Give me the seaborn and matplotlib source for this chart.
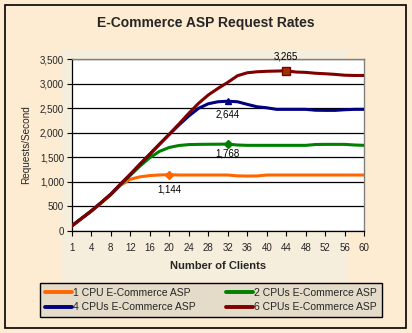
import numpy as np
import pandas as pd
import matplotlib
matplotlib.use("Agg")
import matplotlib.pyplot as plt
from matplotlib.patches import Rectangle
import seaborn as sns

# Request rates (requests/second) by number of clients
clients = [1, 2, 4, 6, 8, 10, 12, 14, 16, 18, 20, 22, 24, 26, 28, 30,
           32, 34, 36, 38, 40, 42, 44, 46, 48, 50, 52, 54, 56, 58, 60]
cpu1 = [96, 245, 395, 560, 730, 925, 1050, 1100, 1125, 1138, 1144, 1137, 1137, 1137, 1137, 1137,
        1137, 1120, 1116, 1118, 1137, 1137, 1137, 1137, 1137, 1137, 1137, 1137, 1137, 1137, 1137]
cpu2 = [96, 250, 402, 570, 743, 945, 1130, 1320, 1490, 1620, 1700, 1740, 1758, 1763, 1765, 1766,
        1768, 1750, 1743, 1743, 1743, 1743, 1743, 1743, 1743, 1760, 1763, 1763, 1763, 1750, 1743]
cpu4 = [96, 250, 402, 570, 743, 948, 1148, 1355, 1558, 1762, 1965, 2160, 2341, 2498, 2592, 2633,
        2644, 2633, 2580, 2531, 2510, 2478, 2478, 2478, 2478, 2460, 2457, 2457, 2470, 2478, 2478]
cpu6 = [96, 250, 402, 570, 743, 950, 1151, 1360, 1565, 1770, 1970, 2180, 2396, 2600, 2771, 2906,
        3029, 3165, 3225, 3245, 3255, 3260, 3265, 3240, 3233, 3215, 3205, 3192, 3175, 3170, 3170]

series_names = ["1 CPU E-Commerce ASP", "2 CPUs E-Commerce ASP",
                "4 CPUs E-Commerce ASP", "6 CPUs E-Commerce ASP"]
series_values = [cpu1, cpu2, cpu4, cpu6]
series_colors = ["#FF6600", "#008000", "#000080", "#800000"]

# Peak points that carry a value label
peak_clients = [20, 32, 32, 44]
peak_markers = ["D", "D", "^", "s"]
peak_label_offsets = [-15, -9, -13, 14]

tick_clients = [1, 4, 8, 12, 16, 20, 24, 28, 32, 36, 40, 44, 48, 52, 56, 60]
y_ticks = [0, 500, 1000, 1500, 2000, 2500, 3000, 3500]

positions = list(range(len(clients)))
df = pd.DataFrame({
    "pos": np.tile(positions, len(series_names)),
    "rate": np.concatenate(series_values),
    "series": np.repeat(series_names, len(clients)),
})

sns.set_theme(style="white")
plt.rcParams["font.family"] = ["Liberation Sans", "DejaVu Sans"]

W, H = 412, 333
fig = plt.figure(figsize=(W / 100, H / 100), dpi=100)
fig.patch.set_facecolor("#FDEBD2")

def fx(px):
    return px / W

def fy(py):
    return 1 - py / H

# inner panel and outer frame
fig.add_artist(Rectangle((fx(61), fy(281)), fx(348) - fx(61), fy(50) - fy(281),
                         transform=fig.transFigure, facecolor="#F6EEDC", edgecolor="none", zorder=0))
fig.add_artist(Rectangle((fx(4.5), fy(328)), fx(406.5) - fx(4.5), fy(4.5) - fy(328),
                         transform=fig.transFigure, facecolor="none", edgecolor="black",
                         linewidth=1.2, zorder=5))

ax = fig.add_axes([fx(71.7), fy(230.7), fx(364.3) - fx(71.7), fy(59.3) - fy(230.7)])
ax.set_facecolor("white")

sns.lineplot(data=df, x="pos", y="rate", hue="series", hue_order=series_names,
             palette=series_colors, linewidth=2.2, ax=ax, legend=False, zorder=3)

for name, vals, color, pc, mk, off in zip(series_names, series_values, series_colors,
                                           peak_clients, peak_markers, peak_label_offsets):
    i = clients.index(pc)
    v = vals[i]
    ax.plot([i], [v], marker=mk, markersize=4 if mk != "s" else 5.5, color=color,
            markerfacecolor=color if mk != "s" else "#993300", markeredgecolor=color, zorder=4)
    ax.annotate(f"{v:,}", (i, v), xytext=(0, off), textcoords="offset pixels",
                ha="center", va="center", fontsize=7, color="black", zorder=5)

ax.set_xlim(0, len(clients) - 1)
ax.set_ylim(0, 3500)
ax.set_yticks(y_ticks)
ax.set_yticklabels([f"{t:,}" for t in y_ticks], fontsize=7)
tick_pos = [clients.index(c) for c in tick_clients]
ax.set_xticks(tick_pos)
ax.set_xticklabels([str(c) for c in tick_clients], fontsize=7)
ax.tick_params(axis="both", direction="out", length=3.5, width=0.8, color="black",
               pad=2, bottom=True, left=True)
ax.tick_params(axis="x", pad=5)

ax.yaxis.grid(True, color="black", linewidth=0.9)
ax.xaxis.grid(False)
ax.set_axisbelow(True)
for side in ["left", "bottom"]:
    ax.spines[side].set_color("black")
    ax.spines[side].set_linewidth(0.9)
for side in ["top", "right"]:
    ax.spines[side].set_color("#808080")
    ax.spines[side].set_linewidth(1.0)

ax.set_xlabel("Number of Clients", fontsize=8, fontweight="bold", labelpad=6)
ax.set_ylabel("Requests/Second", fontsize=7.2, labelpad=6)

fig.text(fx(206), fy(23), "E-Commerce ASP Request Rates", ha="center", va="center",
         fontsize=10, fontweight="bold")

handles = [plt.Line2D([], [], color=c, linewidth=2.8) for c in series_colors]
order = [0, 2, 1, 3]
leg = fig.legend([handles[k] for k in order], [series_names[k] for k in order],
                 ncol=2, loc="center", mode="expand",
                 bbox_to_anchor=(fx(40), fy(317.5), fx(381.7) - fx(40), fy(282.5) - fy(317.5)),
                 fontsize=7.5, frameon=True, fancybox=False, handlelength=2.6,
                 handletextpad=0.1, borderaxespad=0, borderpad=0.45, labelspacing=0.45,
                 columnspacing=1.0)
frame = leg.get_frame()
frame.set_facecolor("#E4DBC8")
frame.set_edgecolor("black")
frame.set_linewidth(1.0)
frame.set_alpha(1)

fig.savefig("out.png", dpi=100, facecolor=fig.get_facecolor())
